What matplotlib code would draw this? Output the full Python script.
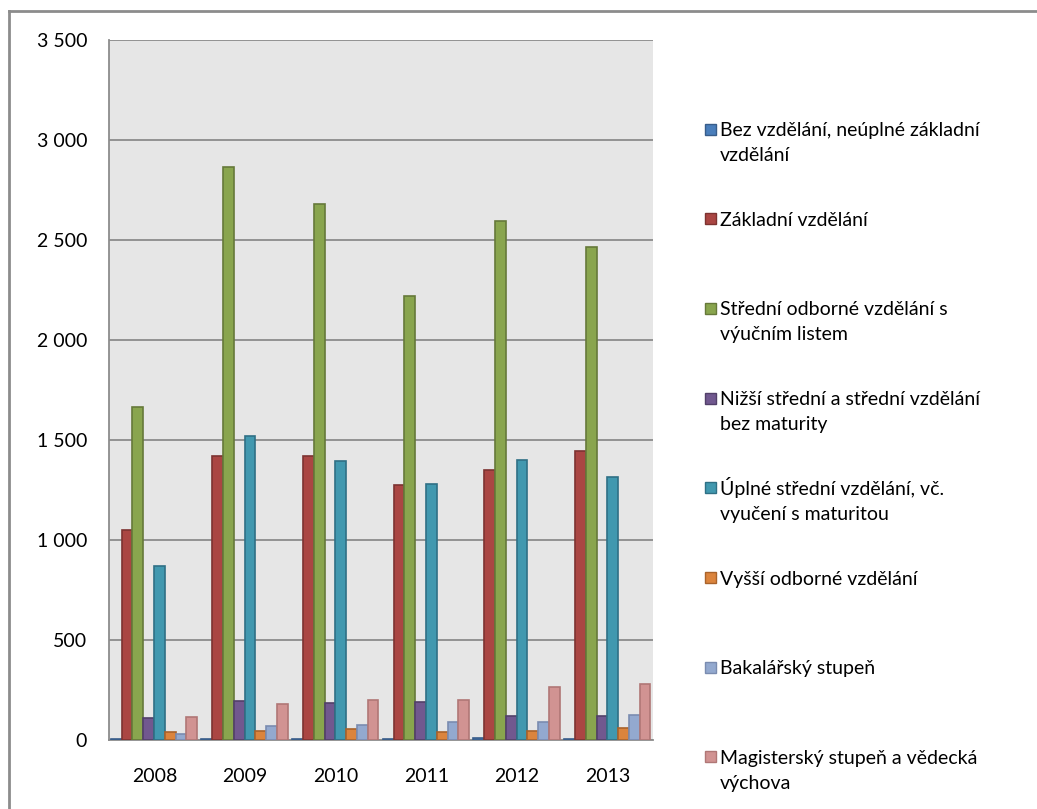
import matplotlib
matplotlib.use("Agg")
import matplotlib.pyplot as plt
from matplotlib.patches import Rectangle
from matplotlib.lines import Line2D
import numpy as np

plt.rcParams['font.family'] = ['Lato', 'DejaVu Sans']

years = ['2008', '2009', '2010', '2011', '2012', '2013']
series_labels = [
    'Bez vzdělání, neúplné základní\nvzdělání',
    'Základní vzdělání',
    'Střední odborné vzdělání s\nvýučním listem',
    'Nižší střední a střední vzdělání\nbez maturity',
    'Úplné střední vzdělání, vč.\nvyučení s maturitou',
    'Vyšší odborné vzdělání',
    'Bakalářský stupeň',
    'Magisterský stupeň a vědecká\nvýchova',
]
bez = [5, 3, 3, 3, 8, 5]
zakladni = [1050, 1420, 1420, 1275, 1350, 1445]
stredni_vl = [1665, 2865, 2680, 2220, 2595, 2465]
nizsi = [108, 195, 185, 190, 118, 120]
uplne = [870, 1520, 1395, 1280, 1400, 1315]
vyssi = [38, 45, 55, 38, 45, 58]
bakalar = [30, 70, 75, 90, 90, 125]
magistr = [115, 180, 200, 200, 265, 280]
series = [bez, zakladni, stredni_vl, nizsi, uplne, vyssi, bakalar, magistr]
yticks = [0, 500, 1000, 1500, 2000, 2500, 3000, 3500]
ytick_labels = ['0', '500', '1 000', '1 500', '2 000', '2 500', '3 000', '3 500']

fills = ['#4A7EBB', '#AA4643', '#89A54E', '#71588F', '#4198AF', '#DB843D', '#93A9CF', '#D19392']
edges = ['#385D8A', '#7D3331', '#66793A', '#524069', '#2F7085', '#A9632B', '#7A8CB0', '#B07776']

W, H = 1037, 809
fig = plt.figure(figsize=(W / 100, H / 100), dpi=100)
ax = fig.add_axes([109 / W, 1 - 740 / H, (653 - 109) / W, (740 - 40) / H])
ax.set_facecolor('#E6E6E6')

n = len(series)
bw = 0.119
x = np.arange(len(years))
start = -0.5 + 0.02
for i, (vals, fc, ec) in enumerate(zip(series, fills, edges)):
    ax.bar(x + start + bw * (i + 0.5), vals, width=bw, color=fc, edgecolor=ec,
           linewidth=1.2, zorder=3)

FS = 14
ax.set_xlim(-0.5, len(years) - 0.5)
ax.set_ylim(0, 3500)
ax.set_yticks(yticks)
ax.set_yticklabels(ytick_labels)
ax.set_xticks(x)
ax.set_xticklabels(years)
ax.tick_params(axis='both', length=0, labelsize=FS, colors='black')
ax.tick_params(axis='y', pad=15.8)
ax.tick_params(axis='x', pad=20)
ax.yaxis.grid(True, color='#8C8C8C', linewidth=1.3, zorder=1)
ax.set_axisbelow(True)
for s in ['top', 'right']:
    ax.spines[s].set_visible(False)
for s in ['left', 'bottom']:
    ax.spines[s].set_color('#8C8C8C')
    ax.spines[s].set_linewidth(1.3)

# legend (manual)
y0 = 129
step = 89.7
line_gap = 25
for i, (lab, fc, ec) in enumerate(zip(series_labels, fills, edges)):
    yc = y0 + step * i
    fig.patches.append(Rectangle((705 / W, 1 - (yc + 5.5) / H), 11 / W, 11 / H,
                                 transform=fig.transFigure, facecolor=fc,
                                 edgecolor=ec, linewidth=1.0))
    for j, line in enumerate(lab.split('\n')):
        fig.text(720 / W, 1 - (yc + 7 + j * line_gap) / H, line, ha='left',
                 va='baseline', fontsize=FS)

# outer chart border
fig.add_artist(Line2D([9 / W, 9 / W], [1 - 11 / H, 0], transform=fig.transFigure,
                      color='#8C8C8C', linewidth=2))
fig.add_artist(Line2D([9 / W, 1], [1 - 11 / H, 1 - 11 / H], transform=fig.transFigure,
                      color='#8C8C8C', linewidth=2))

fig.savefig('out.png', dpi=100)
